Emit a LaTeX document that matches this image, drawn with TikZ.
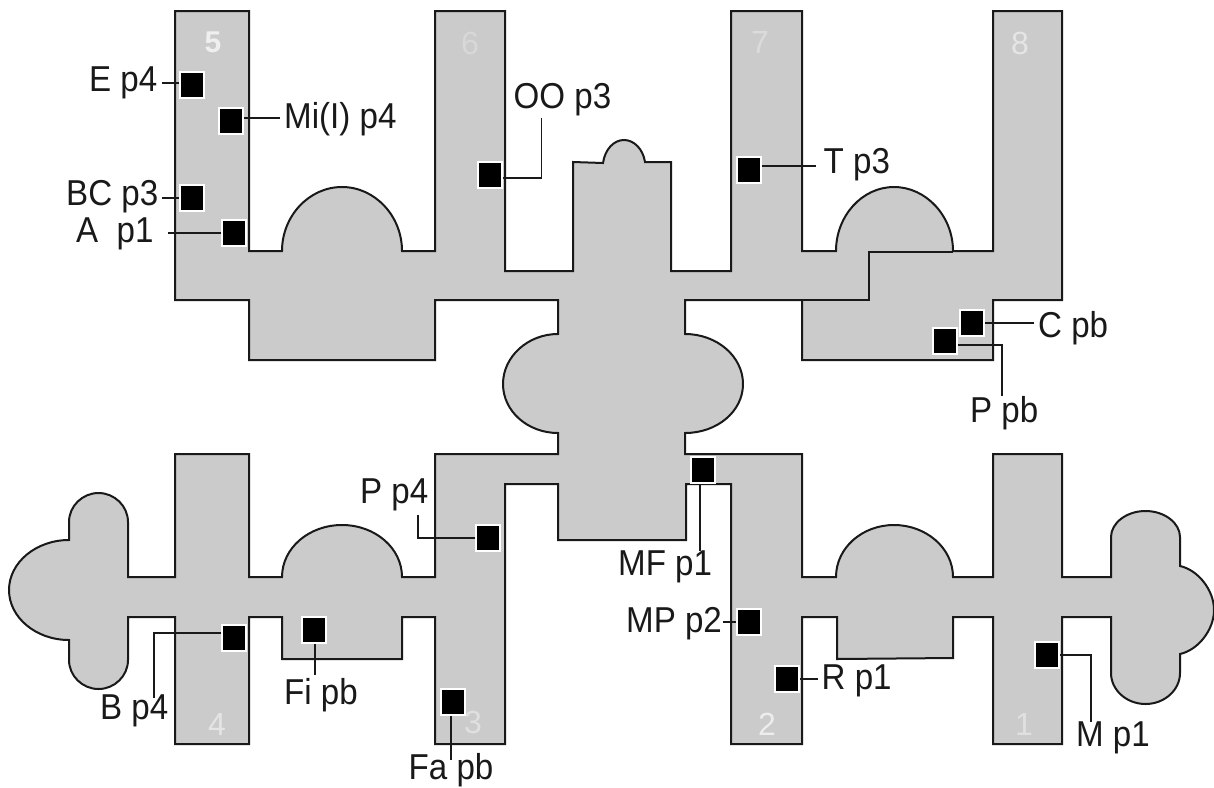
\documentclass[tikz,border=0pt]{standalone}
\usepackage{fontspec}
\setmainfont{Liberation Sans}
\newfontfamily\labfont[FakeStretch=0.92]{Liberation Sans}
\tikzset{
  plan/.style={draw=black!90,line width=2,fill=planfill,line join=miter},
  seat/.style={draw=white,line width=1.5,fill=black,minimum width=24,minimum height=26,inner sep=0},
  lab/.style={anchor=base west,inner xsep=4,inner ysep=0,xshift=-4,yshift=-1.5,font=\labfont\fontsize{36}{38}\selectfont,text=black!90},
  lead/.style={draw=black!90,line width=1.8},
  num/.style={font=\fontsize{32}{34}\selectfont}
}
\definecolor{planfill}{HTML}{CBCBCB}
\begin{document}
\begin{tikzpicture}[x=1pt,y=-1pt]
\useasboundingbox (0,0) rectangle (1214,787);
% plan outline
\path[plan] (175,11) -- (249,11) -- (249,251) -- (282,251)
  .. controls +(0,-35) and +(-33,0) .. (342,187)
  .. controls +(33,0) and +(0,-35) .. (402,251)
  -- (435,251) -- (435,11) -- (505,11) -- (505,271) -- (573,271) -- (573,162) -- (603,163)
  .. controls (605,149) and (614,140) .. (624,140)
  .. controls (634,140) and (643,149) .. (645,162)
  -- (671,162) -- (671,271) -- (731,271) -- (731,11) -- (802,11) -- (802,251) -- (836,251)
  .. controls +(0,-35) and +(-32,0) .. (894,187)
  .. controls +(32,0) and +(0,-35) .. (953,251)
  -- (993,251) -- (993,11) -- (1062,11) -- (1062,300) -- (993,300) -- (993,360) -- (802,360)
  -- (802,300) -- (685,300) -- (685,334)
  .. controls +(32,0) and +(0,-27.5) .. (743,384)
  .. controls +(0,27.5) and +(32,0) .. (685,433)
  -- (685,454) -- (802,454) -- (802,577) -- (836,577)
  .. controls +(0,-29) and +(-32,0) .. (894,525)
  .. controls +(32,0) and +(0,-29) .. (953,577)
  -- (993,577) -- (993,454) -- (1062,454) -- (1062,577) -- (1111,577) -- (1111,537)
  .. controls +(0,-14) and +(-19,0) .. (1145.5,511)
  .. controls +(19,0) and +(0,-14) .. (1180,537)
  -- (1180,566)
  .. controls (1198,570) and (1214,590) .. (1214,610)
  .. controls (1214,630) and (1198,650) .. (1180,654)
  -- (1180,673)
  .. controls +(0,17) and +(19,0) .. (1145.5,704)
  .. controls +(-19,0) and +(0,17) .. (1111,673)
  -- (1111,617) -- (1062,617) -- (1062,744) -- (993,744) -- (993,617) -- (953,617) -- (953,658)
  -- (837,659) -- (837,617) -- (802,617) -- (802,744) -- (731,744) -- (731,484) -- (686,484)
  -- (686,540) -- (558,540) -- (558,484) -- (505,484) -- (505,744) -- (435,744) -- (435,617)
  -- (402,617) -- (402,659) -- (282,659) -- (282,617) -- (249,617) -- (249,744) -- (175,744)
  -- (175,617) -- (128,617) -- (128,660)
  .. controls +(0,16) and +(16,0) .. (98.5,689)
  .. controls +(-16,0) and +(0,16) .. (69,660)
  -- (69,640)
  .. controls +(-33,0) and +(0,27.5) .. (9,590)
  .. controls +(0,-27.5) and +(-33,0) .. (69,540)
  -- (69,522)
  .. controls +(0,-16) and +(-16,0) .. (98.5,493)
  .. controls +(16,0) and +(0,-16) .. (128,522)
  -- (128,577) -- (175,577) -- (175,454) -- (249,454) -- (249,577) -- (282,577)
  .. controls +(0,-29) and +(-33,0) .. (342,525)
  .. controls +(33,0) and +(0,-29) .. (402,577)
  -- (435,577) -- (435,454) -- (558,454) -- (558,433)
  .. controls +(-30,0) and +(0,27.5) .. (503,384)
  .. controls +(0,-27.5) and +(-30,0) .. (558,334)
  -- (558,300) -- (435,300) -- (435,360) -- (249,360) -- (249,300) -- (175,300) -- cycle;
\path[draw=black!90,line width=2] (802,300) -- (869,300) -- (869,252) -- (953,252);
% arm numbers
\node[num,text=white!70!planfill,font=\bfseries\fontsize{30}{32}\selectfont] (n5) at (213,42) {5};
\node[num,text=white!25!planfill] (n6) at (470,43) {6};
\node[num,text=white!30!planfill] (n7) at (760,42) {7};
\node[num,text=white!50!planfill] (n8) at (1020,43) {8};
\node[num,text=white!50!planfill] (n4) at (217,724) {4};
\node[num,text=white!40!planfill] (n3) at (473,722) {3};
\node[num,text=white!65!planfill] (n2) at (767,724) {2};
\node[num,text=white!40!planfill] (n1) at (1024,724) {1};
% seats
\node[seat] (sE) at (192,85) {};
\node[seat] (sMi) at (231,121) {};
\node[seat] (sBC) at (192,198) {};
\node[seat] (sA) at (234,233) {};
\node[seat] (sOO) at (490,175) {};
\node[seat] (sT) at (749,170) {};
\node[seat] (sC) at (972,323) {};
\node[seat] (sPb) at (945,341) {};
\node[seat] (sMF) at (703,470) {};
\node[seat] (sMP) at (749,622) {};
\node[seat] (sR) at (787,679) {};
\node[seat] (sM) at (1047,655) {};
\node[seat] (sPf) at (488,538) {};
\node[seat] (sFi) at (314,630) {};
\node[seat] (sFa) at (453,702) {};
\node[seat] (sB) at (234,638) {};
% labels
\node[lab] (lE) at (89,90) {E p4};
\node[lab] (lMi) at (284,127) {Mi(I) p4};
\node[lab] (lBC) at (66,204) {BC p3};
\node[lab] (lA) at (76,241) {A~~p1};
\node[lab] (lOO) at (513.5,107) {OO p3};
\node[lab] (lT) at (823.5,172) {T p3};
\node[lab] (lC) at (1038,336) {C pb};
\node[lab] (lPb) at (970,421) {P pb};
\node[lab] (lPf) at (360,502) {P p4};
\node[lab] (lB) at (100,718) {B p4};
\node[lab] (lFi) at (284,703) {Fi pb};
\node[lab] (lFa) at (408.5,777.5) {Fa pb};
\node[lab] (lMF) at (618,574) {MF p1};
\node[lab] (lMP) at (626,631) {MP p2};
\node[lab] (lR) at (821.5,688) {R p1};
\node[lab] (lM) at (1076,745) {M p1};
% connectors
\draw[lead] ([yshift=2]sE.west) -- ([yshift=2]lE.east |- sE.west);
\draw[lead] ([yshift=3]sMi.east) -- ([yshift=3]lMi.west |- sMi.east);
\draw[lead] (sBC.west) -- (lBC.east |- sBC.west);
\draw[lead,shorten >=10] (sA.west) -- (lA.east |- sA.west);
\draw[lead,shorten >=2] ([yshift=-3]sOO.east) -| ([xshift=-21]lOO.south);
\draw[lead,shorten >=4] ([yshift=4]sT.east) -- ([yshift=4]lT.west |- sT.east);
\draw[lead] (sC.east) -- (lC.west |- sC.east);
\draw[lead] ([yshift=-4]sPb.east) -| ([xshift=-2]lPb.north);
\draw[lead] ([xshift=-3]sMF.south) -- ([xshift=-3]sMF.south |- lMF.north);
\draw[lead,shorten >=-3] (sMP.west) -- (lMP.east |- sMP.west);
\draw[lead] (sR.east) -- (lR.west |- sR.east);
\draw[lead] (sM.east) -| ([xshift=-22]lM.north);
\draw[lead,shorten >=3.5] (sPf.west) -| ([xshift=23.5]lPf.south);
\draw[lead,shorten >=3] ([xshift=1]sFi.south) -- ([xshift=1]sFi.south |- lFi.north);
\draw[lead,shorten >=-7] ([xshift=-2]sFa.south) -- ([xshift=-2]sFa.south |- lFa.north);
\draw[lead,shorten >=-3] ([yshift=5]sB.west) -| ([xshift=20]lB.north);
\end{tikzpicture}
\end{document}
